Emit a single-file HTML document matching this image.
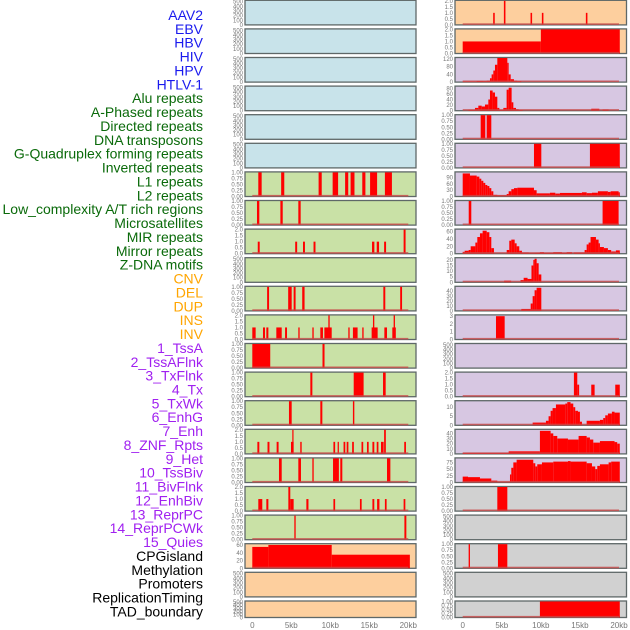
<!DOCTYPE html>
<html><head><meta charset="utf-8">
<style>
body{margin:0;background:#fff;}
svg{display:block;font-family:"Liberation Sans",sans-serif;}
</style></head>
<body>
<svg id="chart" width="630" height="630" viewBox="0 0 630 630" xmlns="http://www.w3.org/2000/svg"></svg>
<script>
// ---- data ----
const featureNames = ["AAV2","EBV","HBV","HIV","HPV","HTLV-1","Alu repeats","A-Phased repeats","Directed repeats","DNA transposons","G-Quadruplex forming repeats","Inverted repeats","L1 repeats","L2 repeats","Low_complexity A/T rich regions","Microsatellites","MIR repeats","Mirror repeats","Z-DNA motifs","CNV","DEL","DUP","INS","INV","1_TssA","2_TssAFlnk","3_TxFlnk","4_Tx","5_TxWk","6_EnhG","7_Enh","8_ZNF_Rpts","9_Het","10_TssBiv","11_BivFlnk","12_EnhBiv","13_ReprPC","14_ReprPCWk","15_Quies","CPGisland","Methylation","Promoters","ReplicationTiming","TAD_boundary"];
const featureGroups = ["v","v","v","v","v","v","r","r","r","r","r","r","r","r","r","r","r","r","r","c","c","c","c","c","s","s","s","s","s","s","s","s","s","s","s","s","s","s","s","o","o","o","o","o"];
const xTickValues = [0,5,10,15,20];
const xTickLabels = ["0","5kb","10kb","15kb","20kb"];
const ticksBlank = [0,100,200,300,400,500];
const ticksUnit = [0,0.25,0.5,0.75,1.0];
const ticksTwo = [0,0.5,1,1.5,2];

// left column segments [startKb, endKb, value]
const segL6 = [[0.77,1.2,1],[3.7,4.1,1],[8.5,8.9,1],[10.3,11.0,1],[11.9,12.3,1],[12.6,13.1,1],[14.1,14.5,1],[15.1,16.0,1],[17.0,17.9,1]];
const segL7 = [[0.6,0.9,1],[3.6,3.9,1],[5.9,6.2,1]];
const segL8 = [[0.7,0.95,1],[5.5,5.75,1],[6.5,6.75,1],[7.85,8.1,1],[15.35,15.65,1],[15.95,16.25,1],[16.9,17.15,1],[19.4,19.65,2]];
const segL10 = [[1.9,2.15,1],[4.6,5.05,1],[5.3,5.55,1],[6.4,6.7,1],[16.8,17.05,1],[18.96,19.2,1]];
const segL11 = [[0,0.43,1],[1.37,1.63,1],[1.8,2.06,1],[3.08,3.77,1],[4.2,4.45,1],[5.9,6.07,1],[7.7,7.87,1],[8.72,9.06,1],[9.24,10.18,1],[9.75,9.92,2],[12.31,12.48,1],[12.9,13.5,1],[14.1,14.27,1],[15.3,16.07,1],[15.47,15.64,2],[16.93,17.27,1],[17.95,18.4,1],[18.12,18.29,2]];
const segL12 = [[0,2.3,1],[9.0,9.26,1]];
const segL13 = [[7.44,7.7,1],[13.0,14.27,1],[16.76,17.1,1]];
const segL14 = [[4.7,5.05,1],[8.72,8.98,1],[12.9,13.08,1]];
const segL15 = [[0.65,0.9,1],[1.95,2.2,1],[3.12,3.37,1],[4.96,5.3,1],[5.13,5.22,2],[6.15,6.33,1],[10.4,10.62,1],[10.94,11.1,1],[11.7,11.92,1],[12.1,12.32,1],[12.8,13.02,1],[14.0,14.22,1],[14.7,14.92,1],[15.4,15.64,1],[15.95,16.17,1],[16.5,16.84,1],[16.9,17.12,2],[19.48,19.7,1]];
const segL16 = [[3.42,3.77,1],[5.9,6.24,1],[7.7,7.87,1],[10.35,11.1,1],[11.28,11.54,1],[17.27,17.7,1]];
const segL17 = [[0.77,1.28,1],[1.8,2.06,1],[4.62,4.87,2],[4.87,5.3,1],[6.93,7.2,1],[10.4,10.62,1],[13.8,14.02,1],[15.4,15.64,1],[16.0,16.3,1],[17.0,17.22,1],[19.4,19.62,1]];
const segL18 = [[5.39,5.56,1],[19.5,19.75,1]];
const segL19 = [[0,2.06,55],[2.06,10.18,60],[10.18,20.2,35]];

// right column segments
const segR0 = [[3.9,4.1,1],[5.27,5.47,2],[8.68,8.88,1],[10.13,10.33,1],[15.76,15.96,1]];
const segR1 = [[0,10.0,1],[10.0,20.1,2]];
const segR2 = [[0,0.94,3],[0.94,1.79,3],[1.79,2.64,6],[2.64,3.07,5],[3.07,3.49,8],[3.49,3.7,20],[3.7,3.92,40],[3.92,4.13,60],[4.13,4.43,90],[4.43,5.71,125],[5.71,5.88,100],[5.88,6.14,40],[6.14,6.56,15],[6.56,6.98,8],[6.98,7.5,5]];
const segR3 = [[0.72,1.57,3],[1.57,2.0,10],[2.0,2.43,18],[2.43,2.85,15],[2.85,3.28,22],[3.28,3.49,40],[3.49,3.83,72],[3.83,4.13,65],[4.13,4.43,50],[4.43,4.69,10],[4.69,5.2,3],[5.2,5.62,10],[5.62,5.88,75],[5.88,6.26,82],[6.26,6.48,30],[6.48,6.82,10],[6.82,7.16,5],[7.16,7.67,2],[16.45,17.48,7],[17.9,18.67,4]];
const segR4 = [[2.3,2.89,1],[3.07,3.66,1]];
const segR5 = [[9.12,10.06,1],[16.28,20.1,1]];
const segR6 = [[0,0.93,110],[0.93,1.79,100],[1.79,2.13,95],[2.13,2.38,85],[2.38,2.64,75],[2.64,2.89,65],[2.89,3.15,55],[3.15,3.41,50],[3.41,3.66,40],[3.66,3.92,25],[3.92,4.43,8],[4.43,5.63,6],[5.63,5.88,12],[5.88,6.22,25],[6.22,6.56,35],[6.56,6.99,40],[6.99,9.12,42],[9.12,9.46,30],[9.46,11.16,15],[11.16,11.85,18],[11.85,12.44,14],[12.44,15.26,17],[15.26,15.86,20],[15.86,16.54,16],[16.54,17.3,18],[17.3,18.58,25],[18.58,18.93,22],[18.93,19.95,25],[19.95,20.1,20]];
const segR7 = [[0.77,1.1,1],[17.9,19.95,1]];
const segR8 = [[0,0.25,5],[0.25,0.76,8],[0.76,1.02,10],[1.02,1.62,20],[1.62,1.87,30],[1.87,2.21,45],[2.21,2.55,55],[2.55,3.07,62],[3.07,3.41,58],[3.41,3.66,45],[3.66,4.0,15],[5.63,5.96,10],[5.96,6.22,35],[6.22,6.65,38],[6.65,6.9,28],[6.9,7.24,20],[7.24,7.58,8],[7.58,8.44,3],[8.44,9.29,1],[9.29,9.88,2],[9.88,10.4,4],[10.4,11.59,2],[11.59,12.7,4],[12.7,13.3,2],[13.3,13.98,4],[14.23,15.6,3],[15.6,15.86,10],[15.86,16.11,25],[16.11,16.36,30],[16.36,17.05,45],[17.05,17.39,38],[17.39,17.56,28],[17.56,18.07,18],[18.07,18.58,15],[18.58,19.0,10],[19.0,19.6,6],[19.6,20.1,9]];
const segR9 = [[5.3,6.2,1.5],[7.4,7.8,2],[7.8,8.3,4],[8.3,8.8,3],[8.8,9.04,15],[9.04,9.2,20],[9.2,9.46,21],[9.46,9.72,17],[9.72,10.06,7]];
const segR10 = [[7.5,8.7,4],[8.7,8.95,15],[8.95,9.2,30],[9.2,9.46,42],[9.46,10.06,47]];
const segR11 = [[4.26,5.37,3]];
const segR13 = [[14.23,14.66,2],[14.66,14.9,1],[16.45,16.88,1],[19.52,20.1,1]];
const segR14 = [[8.95,10.65,1.5],[10.65,10.99,2.5],[10.99,11.25,5],[11.25,11.5,8],[11.5,11.93,9.5],[11.93,13.13,11.5],[13.13,13.38,12],[13.38,13.8,12.8],[13.8,14.15,12],[14.15,14.4,10],[14.4,14.75,8],[14.75,15.0,7.5],[15.0,15.26,2],[15.86,17.56,2.5],[17.56,17.98,3],[17.98,18.24,4],[18.24,18.58,5.5],[18.58,19.09,6.5],[19.09,19.43,7.5],[19.43,20.1,7]];
const segR15 = [[0,5.88,1.5],[5.88,9.88,5],[9.88,11.25,45],[11.25,11.59,40],[11.59,12.1,35],[12.1,13.47,30],[13.47,14.83,28],[14.83,15.86,35],[15.86,16.28,32],[16.28,16.71,28],[16.71,17.56,22],[17.56,19.43,25],[19.43,19.77,23],[19.77,20.1,20]];
const segR16 = [[0,0.68,22],[0.68,2.21,20],[2.21,3.66,15],[3.66,4.43,7],[4.43,6.05,2],[6.05,6.22,30],[6.22,6.48,55],[6.48,6.9,75],[6.9,9.03,85],[9.03,9.29,72],[9.29,9.54,60],[9.54,10.14,68],[10.14,11.59,75],[11.59,13.47,78],[13.47,13.8,80],[13.8,15.86,78],[15.86,16.54,72],[16.54,16.96,60],[16.96,17.22,50],[17.22,17.56,62],[17.56,18.67,68],[18.67,19.0,75],[19.0,20.1,78]];
const segR17 = [[4.43,5.71,1]];
const segR19 = [[0.76,0.93,1],[4.51,5.71,1]];
const segR21 = [[9.88,20.1,1]];

// per-panel: [segments, ticks, ymax]
const leftPanels = [
 [[],ticksBlank,520],[[],ticksBlank,520],[[],ticksBlank,520],[[],ticksBlank,520],[[],ticksBlank,520],[[],ticksBlank,520],
 [segL6,ticksUnit,1],[segL7,ticksUnit,1],[segL8,ticksTwo,2],[[],ticksBlank,520],[segL10,ticksUnit,1],[segL11,ticksTwo,2],
 [segL12,ticksUnit,1],[segL13,ticksUnit,1],[segL14,ticksUnit,1],[segL15,ticksTwo,2],[segL16,ticksUnit,1],[segL17,ticksTwo,2],
 [segL18,ticksUnit,1],[segL19,[0,20,40,60],62],[[],ticksBlank,520],[[],ticksBlank,520]
];
const rightPanels = [
 [segR0,ticksTwo,2],[segR1,ticksTwo,2],[segR2,[0,40,80,120],125],[segR3,[0,20,40,60,80],86],[segR4,ticksUnit,1],[segR5,ticksUnit,1],
 [segR6,[0,30,60,90],115],[segR7,ticksUnit,1],[segR8,[0,20,40,60],65],[segR9,[0,5,10,15,20],21.5],[segR10,[0,10,20,30,40],49],
 [segR11,[0,1,2,3],3.1],[[],ticksBlank,520],[segR13,ticksTwo,2],[segR14,[0,5,10],13.3],[segR15,[0,10,20,30,40],47],
 [segR16,[0,25,50,75],90],[segR17,ticksUnit,1],[[],ticksBlank,520],[segR19,ticksUnit,1],[[],ticksBlank,520],[segR21,ticksUnit,1]
];
const leftColors = ["b","b","b","b","b","b","g","g","g","g","g","g","g","g","g","g","g","g","g","p","p","p"];
const rightColors = ["p","p","u","u","u","u","u","u","u","u","u","u","u","u","u","u","u","k","k","k","k","k"];

// ---- rendering ----
const NS = "http://www.w3.org/2000/svg";
const svg = document.getElementById("chart");
const bgMap = {b:"#c8e3ea",g:"#c9e1a6",p:"#fdcf9e",u:"#d7c7e2",k:"#d1d1d1"};
const labelColor = {v:"#1a1aee",r:"#0a6a0a",c:"#ffa500",s:"#a020f0",o:"#000000"};
function mk(tag, attrs, parent){const e=document.createElementNS(NS,tag);for(const k in attrs)e.setAttribute(k,attrs[k]);(parent||svg).appendChild(e);return e;}

// labels
featureNames.forEach((n,i)=>{
  const t = mk("text",{x:203,y:15+i*13.87+5,"text-anchor":"end","font-size":"14",fill:labelColor[featureGroups[i]]});
  t.textContent = n;
  
  
});

function rowTop(i){return i===21?601:0.3+28.6*i;}
function rowH(i){return i===21?16.5:24.6;}
function fmt(v,ticks){if(ticks===ticksUnit)return v.toFixed(2);if(ticks===ticksTwo)return v.toFixed(1);return String(v);}

function drawColumn(panels, colors, px0, pxW, x0, x20, side){
  const xs = kb => x0 + (x20-x0)*kb/20;
  panels.forEach((p,i)=>{
    const [segs,ticks,ymax]=p;
    const top=rowTop(i), h=rowH(i), bot=top+h;
    const g = mk("g",{});
    
    
    mk("rect",{x:px0,y:top,width:pxW,height:h,fill:bgMap[colors[i]],stroke:"#5f6868","stroke-width":1.3},g);
    const ys = v => bot - (h-0.5)*v/ymax;
    segs.forEach(s=>{
      const r = mk("rect",{x:xs(s[0]),y:ys(s[2]),width:Math.max(xs(s[1])-xs(s[0]),1.2),height:bot-ys(s[2]),fill:"#ff0000"},g);
      
      
    });
    if(segs.length){
      mk("rect",{x:xs(0),y:bot-1.6,width:xs(20)-xs(0),height:1.6,fill:"#c84848",opacity:0.8},g);
    }
    ticks.forEach(tv=>{
      const t = mk("text",{x:px0-2,y:ys(tv)+2,"text-anchor":"end","font-size":"6",fill:"#777"},g);
      t.textContent = fmt(tv,ticks);
      
      
    });
  });
  xTickValues.forEach((v,j)=>{
    const t = mk("text",{x:xs(v),y:628,"text-anchor":"middle","font-size":"8",fill:"#777"});
    t.textContent = xTickLabels[j];
    
    
  });
}
drawColumn(leftPanels,leftColors,245,171,252.3,408.3,"left");
drawColumn(rightPanels,rightColors,455,171.5,462.7,619,"right");
</script>
</body></html>
